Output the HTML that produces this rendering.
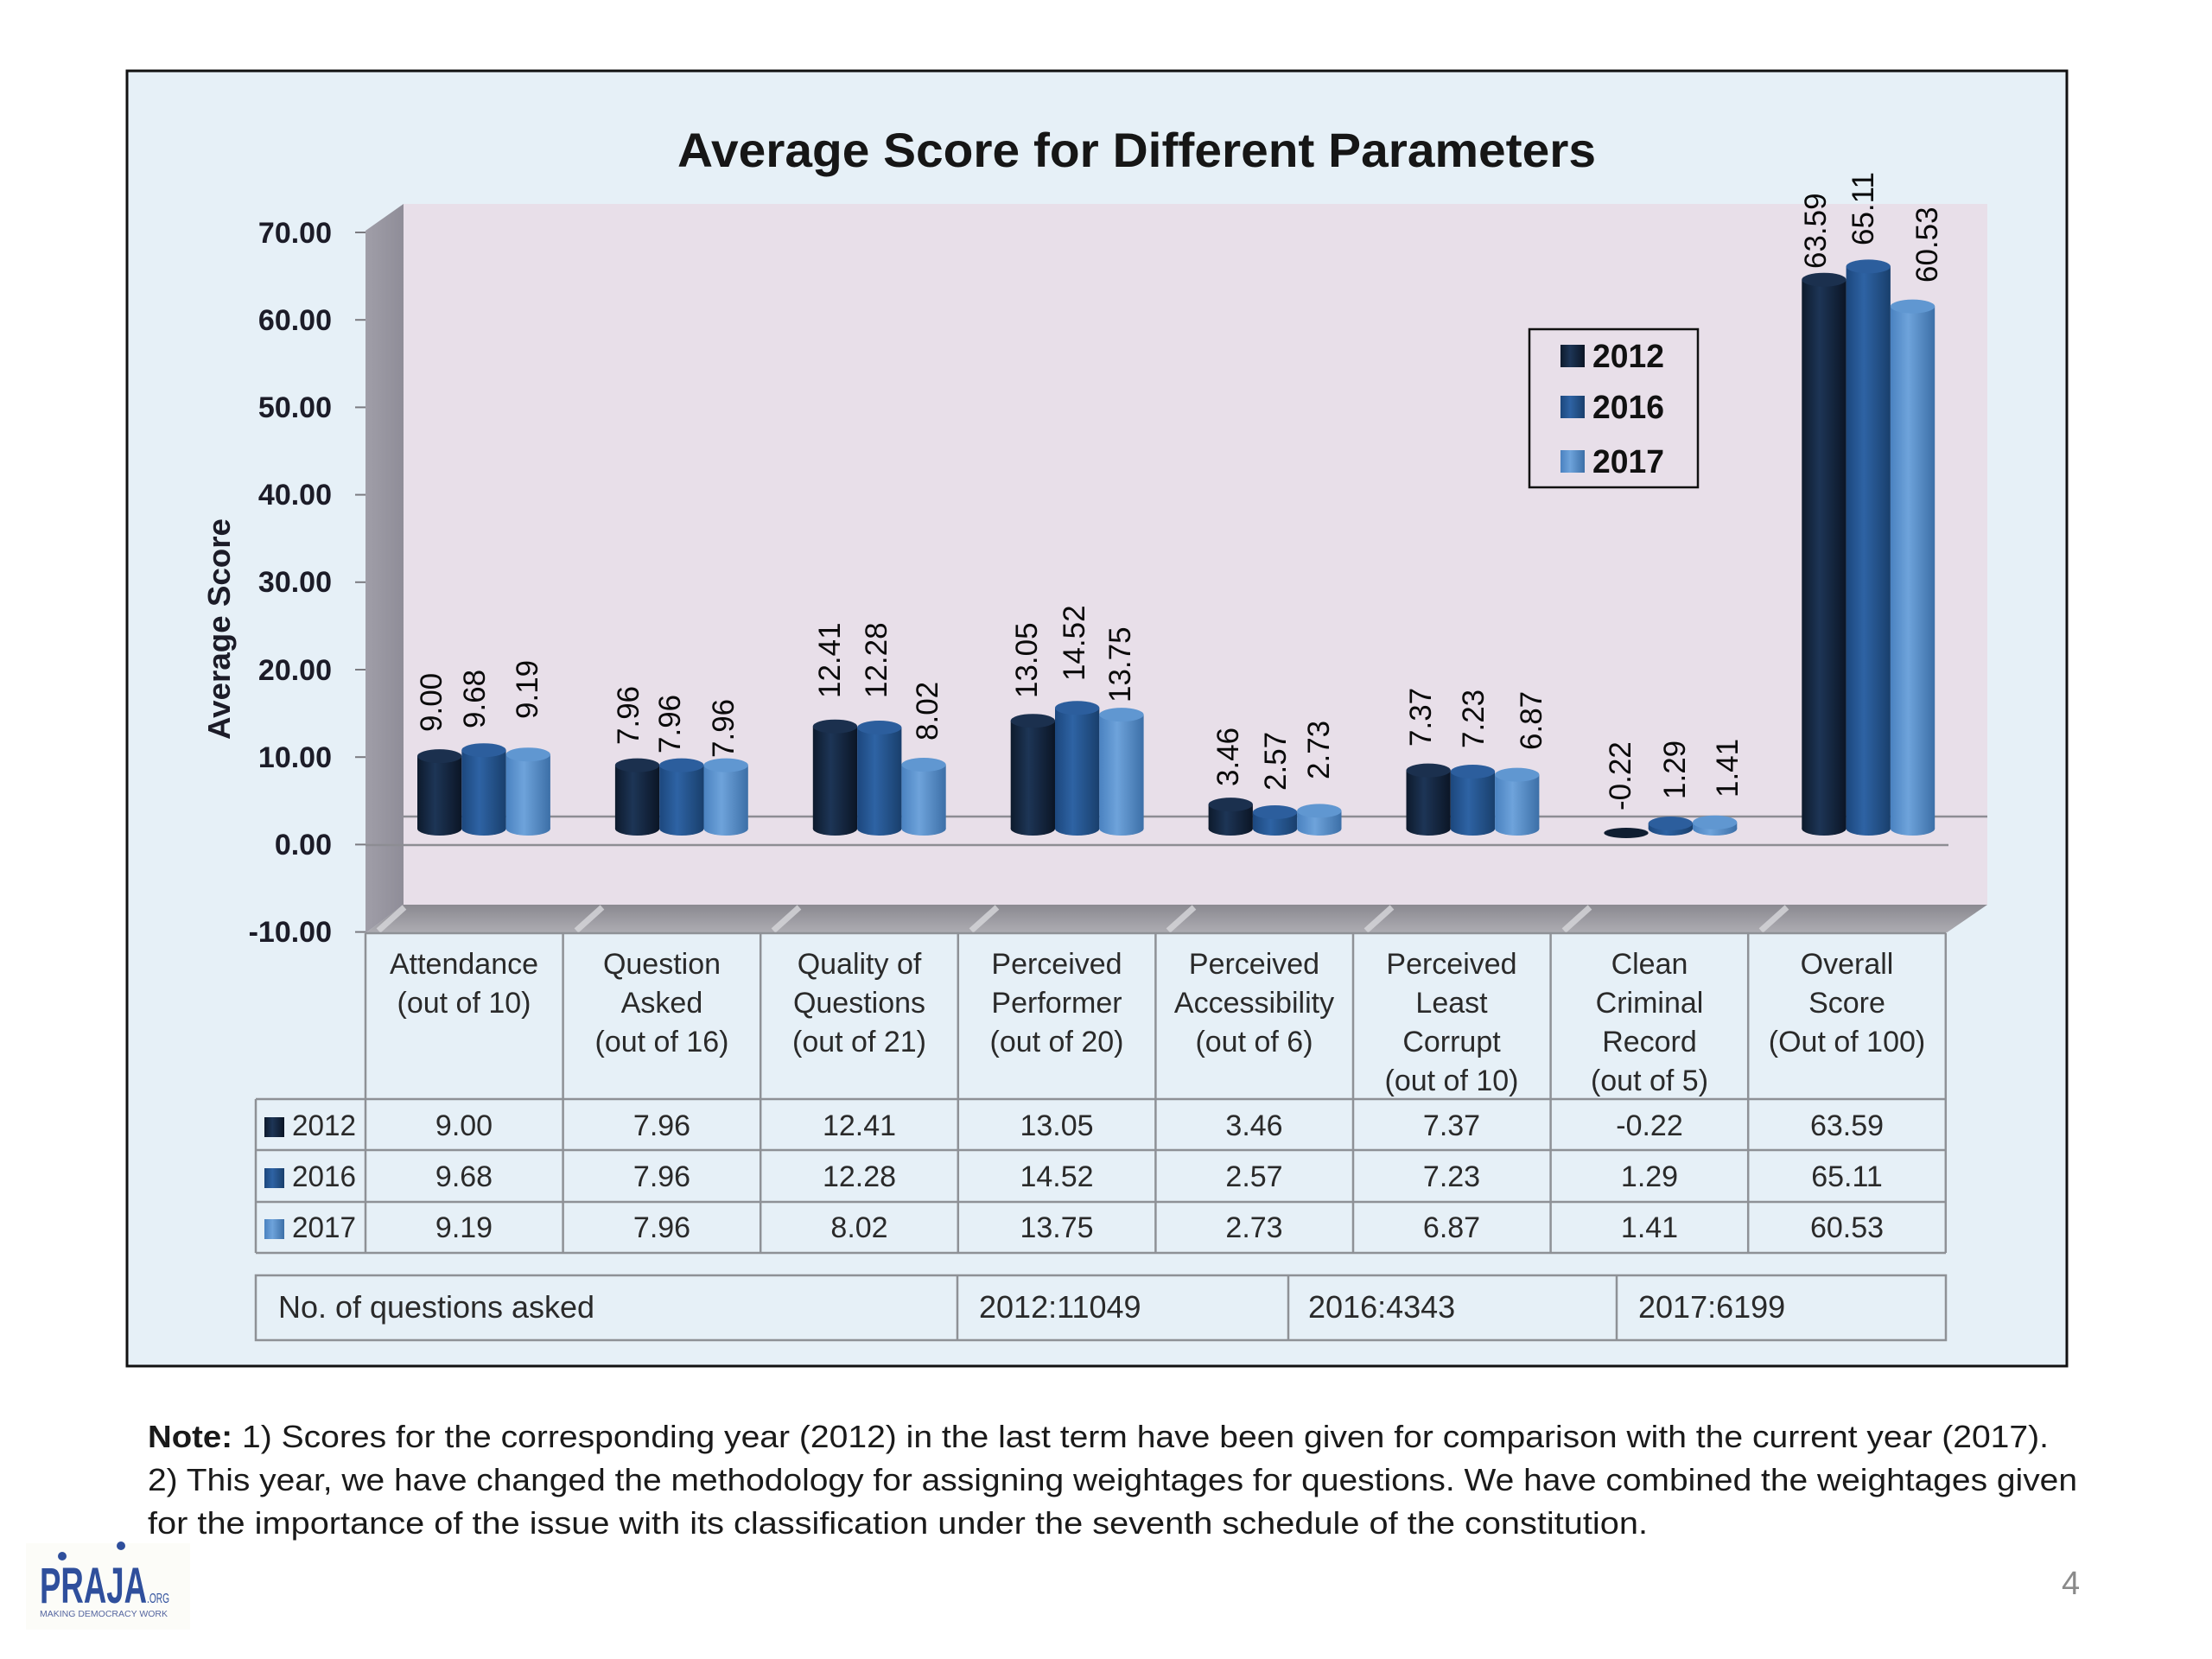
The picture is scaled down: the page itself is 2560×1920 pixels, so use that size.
<!DOCTYPE html>
<html>
<head>
<meta charset="utf-8">
<style>
html,body{margin:0;padding:0;background:#ffffff;}
svg{display:block;}
text{font-family:"Liberation Sans",Arial,sans-serif;}
</style>
</head>
<body>
<svg xmlns="http://www.w3.org/2000/svg" width="2560" height="1920" viewBox="0 0 2560 1920">
<defs>
  <linearGradient id="gD" x1="0" y1="0" x2="1" y2="0">
    <stop offset="0" stop-color="#0d1a2c"/>
    <stop offset="0.4" stop-color="#1d3556"/>
    <stop offset="1" stop-color="#0b1525"/>
  </linearGradient>
  <linearGradient id="gM" x1="0" y1="0" x2="1" y2="0">
    <stop offset="0" stop-color="#1c477d"/>
    <stop offset="0.4" stop-color="#2e63a4"/>
    <stop offset="1" stop-color="#193f6c"/>
  </linearGradient>
  <linearGradient id="gL" x1="0" y1="0" x2="1" y2="0">
    <stop offset="0" stop-color="#4a82c0"/>
    <stop offset="0.4" stop-color="#6ea3db"/>
    <stop offset="1" stop-color="#3c6fa7"/>
  </linearGradient>
  <linearGradient id="gWall" x1="0" y1="0" x2="1" y2="0">
    <stop offset="0" stop-color="#a09ea8"/>
    <stop offset="1" stop-color="#8f8d98"/>
  </linearGradient>
  <linearGradient id="gFloor" x1="0" y1="0" x2="0" y2="1">
    <stop offset="0" stop-color="#8a8990"/>
    <stop offset="1" stop-color="#aeadb3"/>
  </linearGradient>
</defs>

<!-- frame -->
<rect x="147" y="82" width="2245" height="1499" fill="#e6f0f7" stroke="#111" stroke-width="3"/>

<!-- title -->
<text x="1315.5" y="193" font-size="56" font-weight="bold" fill="#161616" text-anchor="middle" textLength="1063" lengthAdjust="spacingAndGlyphs">Average Score for Different Parameters</text>

<!-- back wall -->
<rect x="467" y="236" width="1833" height="811" fill="#e8dfe9"/>
<!-- left wall -->
<polygon points="423,267 467,236 467,1047 423,1080" fill="url(#gWall)"/>
<!-- floor slab -->
<polygon points="467,1047 2300,1047 2252,1080 423,1080" fill="url(#gFloor)"/>
<g stroke="#d4d4d8" stroke-width="7" opacity="0.85">
  <line x1="438" y1="1077" x2="468" y2="1050"/>
  <line x1="667" y1="1077" x2="697" y2="1050"/>
  <line x1="895" y1="1077" x2="925" y2="1050"/>
  <line x1="1124" y1="1077" x2="1154" y2="1050"/>
  <line x1="1352" y1="1077" x2="1382" y2="1050"/>
  <line x1="1581" y1="1077" x2="1611" y2="1050"/>
  <line x1="1810" y1="1077" x2="1840" y2="1050"/>
  <line x1="2038" y1="1077" x2="2068" y2="1050"/>
</g>

<!-- back 0 gridline -->
<line x1="467" y1="945" x2="2300" y2="945" stroke="#8d8d93" stroke-width="2.5"/>

<!-- y axis ticks & labels -->
<g stroke="#7a7a80" stroke-width="2">
  <line x1="411" y1="269" x2="423" y2="269"/>
  <line x1="411" y1="370.2" x2="423" y2="370.2"/>
  <line x1="411" y1="471.4" x2="423" y2="471.4"/>
  <line x1="411" y1="572.6" x2="423" y2="572.6"/>
  <line x1="411" y1="673.8" x2="423" y2="673.8"/>
  <line x1="411" y1="775" x2="423" y2="775"/>
  <line x1="411" y1="876.2" x2="423" y2="876.2"/>
  <line x1="411" y1="977.4" x2="423" y2="977.4"/>
  <line x1="411" y1="1078.6" x2="423" y2="1078.6"/>
</g>
<g font-size="34" font-weight="bold" fill="#1c1c28" text-anchor="end">
  <text x="384" y="281">70.00</text>
  <text x="384" y="382">60.00</text>
  <text x="384" y="483">50.00</text>
  <text x="384" y="584">40.00</text>
  <text x="384" y="685">30.00</text>
  <text x="384" y="787">20.00</text>
  <text x="384" y="888">10.00</text>
  <text x="384" y="989">0.00</text>
  <text x="384" y="1090">-10.00</text>
</g>
<text transform="translate(266,728) rotate(-90)" font-size="36" font-weight="bold" fill="#1c1c28" text-anchor="middle" textLength="256" lengthAdjust="spacingAndGlyphs">Average Score</text>

<!-- bars -->
<g>
<!-- group 0 -->
<rect x="483" y="875.1" width="51.3" height="83.9" fill="url(#gD)"/><ellipse cx="508.65" cy="959" rx="25.65" ry="8" fill="url(#gD)"/><ellipse cx="508.65" cy="875.1" rx="25.65" ry="8" fill="#1b304e"/>
<rect x="534.3" y="868.2" width="51.3" height="90.8" fill="url(#gM)"/><ellipse cx="559.95" cy="959" rx="25.65" ry="8" fill="url(#gM)"/><ellipse cx="559.95" cy="868.2" rx="25.65" ry="8" fill="#2c5e9d"/>
<rect x="585.6" y="873.2" width="51.3" height="85.8" fill="url(#gL)"/><ellipse cx="611.25" cy="959" rx="25.65" ry="8" fill="url(#gL)"/><ellipse cx="611.25" cy="873.2" rx="25.65" ry="8" fill="#6097d1"/>
<!-- group 1 -->
<rect x="711.9" y="885.6" width="51.3" height="73.4" fill="url(#gD)"/><ellipse cx="737.55" cy="959" rx="25.65" ry="8" fill="url(#gD)"/><ellipse cx="737.55" cy="885.6" rx="25.65" ry="8" fill="#1b304e"/>
<rect x="763.2" y="885.6" width="51.3" height="73.4" fill="url(#gM)"/><ellipse cx="788.85" cy="959" rx="25.65" ry="8" fill="url(#gM)"/><ellipse cx="788.85" cy="885.6" rx="25.65" ry="8" fill="#2c5e9d"/>
<rect x="814.5" y="885.6" width="51.3" height="73.4" fill="url(#gL)"/><ellipse cx="840.15" cy="959" rx="25.65" ry="8" fill="url(#gL)"/><ellipse cx="840.15" cy="885.6" rx="25.65" ry="8" fill="#6097d1"/>
<!-- group 2 -->
<rect x="940.8" y="840.7" width="51.3" height="118.3" fill="url(#gD)"/><ellipse cx="966.45" cy="959" rx="25.65" ry="8" fill="url(#gD)"/><ellipse cx="966.45" cy="840.7" rx="25.65" ry="8" fill="#1b304e"/>
<rect x="992.1" y="842" width="51.3" height="117" fill="url(#gM)"/><ellipse cx="1017.75" cy="959" rx="25.65" ry="8" fill="url(#gM)"/><ellipse cx="1017.75" cy="842" rx="25.65" ry="8" fill="#2c5e9d"/>
<rect x="1043.4" y="885" width="51.3" height="74" fill="url(#gL)"/><ellipse cx="1069.05" cy="959" rx="25.65" ry="8" fill="url(#gL)"/><ellipse cx="1069.05" cy="885" rx="25.65" ry="8" fill="#6097d1"/>
<!-- group 3 -->
<rect x="1169.7" y="834.2" width="51.3" height="124.8" fill="url(#gD)"/><ellipse cx="1195.35" cy="959" rx="25.65" ry="8" fill="url(#gD)"/><ellipse cx="1195.35" cy="834.2" rx="25.65" ry="8" fill="#1b304e"/>
<rect x="1221" y="819.3" width="51.3" height="139.7" fill="url(#gM)"/><ellipse cx="1246.65" cy="959" rx="25.65" ry="8" fill="url(#gM)"/><ellipse cx="1246.65" cy="819.3" rx="25.65" ry="8" fill="#2c5e9d"/>
<rect x="1272.3" y="827.1" width="51.3" height="131.9" fill="url(#gL)"/><ellipse cx="1297.95" cy="959" rx="25.65" ry="8" fill="url(#gL)"/><ellipse cx="1297.95" cy="827.1" rx="25.65" ry="8" fill="#6097d1"/>
<!-- group 4 -->
<rect x="1398.6" y="931.1" width="51.3" height="27.9" fill="url(#gD)"/><ellipse cx="1424.25" cy="959" rx="25.65" ry="8" fill="url(#gD)"/><ellipse cx="1424.25" cy="931.1" rx="25.65" ry="8" fill="#1b304e"/>
<rect x="1449.9" y="940" width="51.3" height="19" fill="url(#gM)"/><ellipse cx="1475.55" cy="959" rx="25.65" ry="8" fill="url(#gM)"/><ellipse cx="1475.55" cy="940" rx="25.65" ry="8" fill="#2c5e9d"/>
<rect x="1501.2" y="938.4" width="51.3" height="20.6" fill="url(#gL)"/><ellipse cx="1526.85" cy="959" rx="25.65" ry="8" fill="url(#gL)"/><ellipse cx="1526.85" cy="938.4" rx="25.65" ry="8" fill="#6097d1"/>
<!-- group 5 -->
<rect x="1627.5" y="891.6" width="51.3" height="67.4" fill="url(#gD)"/><ellipse cx="1653.15" cy="959" rx="25.65" ry="8" fill="url(#gD)"/><ellipse cx="1653.15" cy="891.6" rx="25.65" ry="8" fill="#1b304e"/>
<rect x="1678.8" y="893" width="51.3" height="66" fill="url(#gM)"/><ellipse cx="1704.45" cy="959" rx="25.65" ry="8" fill="url(#gM)"/><ellipse cx="1704.45" cy="893" rx="25.65" ry="8" fill="#2c5e9d"/>
<rect x="1730.1" y="896.6" width="51.3" height="62.4" fill="url(#gL)"/><ellipse cx="1755.75" cy="959" rx="25.65" ry="8" fill="url(#gL)"/><ellipse cx="1755.75" cy="896.6" rx="25.65" ry="8" fill="#6097d1"/>
<!-- group 6 -->
<ellipse cx="1882" cy="964" rx="25.65" ry="6" fill="#0f1d31"/>
<rect x="1907.7" y="953" width="51.3" height="6" fill="url(#gM)"/><ellipse cx="1933.35" cy="959" rx="25.65" ry="8" fill="url(#gM)"/><ellipse cx="1933.35" cy="953" rx="25.65" ry="8" fill="#2c5e9d"/>
<rect x="1959" y="951.8" width="51.3" height="7.2" fill="url(#gL)"/><ellipse cx="1984.65" cy="959" rx="25.65" ry="8" fill="url(#gL)"/><ellipse cx="1984.65" cy="951.8" rx="25.65" ry="8" fill="#6097d1"/>
<!-- group 7 -->
<rect x="2085.3" y="323.7" width="51.3" height="635.3" fill="url(#gD)"/><ellipse cx="2110.95" cy="959" rx="25.65" ry="8" fill="url(#gD)"/><ellipse cx="2110.95" cy="323.7" rx="25.65" ry="8" fill="#1b304e"/>
<rect x="2136.6" y="308.4" width="51.3" height="650.6" fill="url(#gM)"/><ellipse cx="2162.25" cy="959" rx="25.65" ry="8" fill="url(#gM)"/><ellipse cx="2162.25" cy="308.4" rx="25.65" ry="8" fill="#2c5e9d"/>
<rect x="2187.9" y="354.6" width="51.3" height="604.4" fill="url(#gL)"/><ellipse cx="2213.55" cy="959" rx="25.65" ry="8" fill="url(#gL)"/><ellipse cx="2213.55" cy="354.6" rx="25.65" ry="8" fill="#6097d1"/>
</g>

<!-- front 0 gridline -->
<line x1="423" y1="978" x2="2255" y2="978" stroke="#8d8d93" stroke-width="2.5"/>

<!-- value labels -->
<g font-size="35" fill="#0a0a0a">
  <text transform="translate(511,847) rotate(-90)">9.00</text>
  <text transform="translate(561,843) rotate(-90)">9.68</text>
  <text transform="translate(622,832) rotate(-90)">9.19</text>
  <text transform="translate(739,862) rotate(-90)">7.96</text>
  <text transform="translate(787,872) rotate(-90)">7.96</text>
  <text transform="translate(849,877) rotate(-90)">7.96</text>
  <text transform="translate(972,808) rotate(-90)">12.41</text>
  <text transform="translate(1026,808) rotate(-90)">12.28</text>
  <text transform="translate(1085,857) rotate(-90)">8.02</text>
  <text transform="translate(1200,808) rotate(-90)">13.05</text>
  <text transform="translate(1255,788) rotate(-90)">14.52</text>
  <text transform="translate(1308,813) rotate(-90)">13.75</text>
  <text transform="translate(1433,910) rotate(-90)">3.46</text>
  <text transform="translate(1488,915) rotate(-90)">2.57</text>
  <text transform="translate(1538,902) rotate(-90)">2.73</text>
  <text transform="translate(1656,864) rotate(-90)">7.37</text>
  <text transform="translate(1717,866) rotate(-90)">7.23</text>
  <text transform="translate(1784,868) rotate(-90)">6.87</text>
  <text transform="translate(1887,938) rotate(-90)">-0.22</text>
  <text transform="translate(1950,925) rotate(-90)">1.29</text>
  <text transform="translate(2011,923) rotate(-90)">1.41</text>
  <text transform="translate(2113,311) rotate(-90)">63.59</text>
  <text transform="translate(2168,284) rotate(-90)">65.11</text>
  <text transform="translate(2242,327) rotate(-90)">60.53</text>
</g>

<!-- legend -->
<rect x="1770" y="381" width="195" height="183" fill="none" stroke="#111" stroke-width="2.5"/>
<rect x="1806" y="399" width="28" height="26" fill="url(#gD)"/>
<rect x="1806" y="458" width="28" height="26" fill="url(#gM)"/>
<rect x="1806" y="521" width="28" height="26" fill="url(#gL)"/>
<g font-size="38" font-weight="bold" fill="#111">
  <text x="1843" y="425" textLength="83" lengthAdjust="spacingAndGlyphs">2012</text>
  <text x="1843" y="484" textLength="83" lengthAdjust="spacingAndGlyphs">2016</text>
  <text x="1843" y="547" textLength="83" lengthAdjust="spacingAndGlyphs">2017</text>
</g>

<!-- data table -->
<g stroke="#8e9196" stroke-width="2.5" fill="none">
  <line x1="423" y1="1080" x2="2252" y2="1080"/>
  <line x1="296" y1="1272" x2="2252" y2="1272"/>
  <line x1="296" y1="1331" x2="2252" y2="1331"/>
  <line x1="296" y1="1391" x2="2252" y2="1391"/>
  <line x1="296" y1="1450" x2="2252" y2="1450"/>
  <line x1="296" y1="1272" x2="296" y2="1450"/>
  <line x1="423" y1="1080" x2="423" y2="1450"/>
  <line x1="651.6" y1="1080" x2="651.6" y2="1450"/>
  <line x1="880.2" y1="1080" x2="880.2" y2="1450"/>
  <line x1="1108.8" y1="1080" x2="1108.8" y2="1450"/>
  <line x1="1337.4" y1="1080" x2="1337.4" y2="1450"/>
  <line x1="1566" y1="1080" x2="1566" y2="1450"/>
  <line x1="1794.6" y1="1080" x2="1794.6" y2="1450"/>
  <line x1="2023.2" y1="1080" x2="2023.2" y2="1450"/>
  <line x1="2251.8" y1="1080" x2="2251.8" y2="1450"/>
  <rect x="296" y="1476" width="1956" height="75"/>
  <line x1="1108" y1="1476" x2="1108" y2="1551"/>
  <line x1="1491" y1="1476" x2="1491" y2="1551"/>
  <line x1="1871" y1="1476" x2="1871" y2="1551"/>
</g>

<g font-size="34" fill="#2a2a2a" text-anchor="middle">
  <!-- headers -->
  <text x="537" y="1127">Attendance</text>
  <text x="537" y="1172">(out of 10)</text>
  <text x="766" y="1127">Question</text>
  <text x="766" y="1172">Asked</text>
  <text x="766" y="1217">(out of 16)</text>
  <text x="994.5" y="1127">Quality of</text>
  <text x="994.5" y="1172">Questions</text>
  <text x="994.5" y="1217">(out of 21)</text>
  <text x="1223" y="1127">Perceived</text>
  <text x="1223" y="1172">Performer</text>
  <text x="1223" y="1217">(out of 20)</text>
  <text x="1451.5" y="1127">Perceived</text>
  <text x="1451.5" y="1172">Accessibility</text>
  <text x="1451.5" y="1217">(out of 6)</text>
  <text x="1680" y="1127">Perceived</text>
  <text x="1680" y="1172">Least</text>
  <text x="1680" y="1217">Corrupt</text>
  <text x="1680" y="1262">(out of 10)</text>
  <text x="1909" y="1127">Clean</text>
  <text x="1909" y="1172">Criminal</text>
  <text x="1909" y="1217">Record</text>
  <text x="1909" y="1262">(out of 5)</text>
  <text x="2137.5" y="1127">Overall</text>
  <text x="2137.5" y="1172">Score</text>
  <text x="2137.5" y="1217">(Out of 100)</text>
  <!-- row 2012 -->
  <text x="537" y="1314">9.00</text>
  <text x="766" y="1314">7.96</text>
  <text x="994.5" y="1314">12.41</text>
  <text x="1223" y="1314">13.05</text>
  <text x="1451.5" y="1314">3.46</text>
  <text x="1680" y="1314">7.37</text>
  <text x="1909" y="1314">-0.22</text>
  <text x="2137.5" y="1314">63.59</text>
  <!-- row 2016 -->
  <text x="537" y="1373">9.68</text>
  <text x="766" y="1373">7.96</text>
  <text x="994.5" y="1373">12.28</text>
  <text x="1223" y="1373">14.52</text>
  <text x="1451.5" y="1373">2.57</text>
  <text x="1680" y="1373">7.23</text>
  <text x="1909" y="1373">1.29</text>
  <text x="2137.5" y="1373">65.11</text>
  <!-- row 2017 -->
  <text x="537" y="1432">9.19</text>
  <text x="766" y="1432">7.96</text>
  <text x="994.5" y="1432">8.02</text>
  <text x="1223" y="1432">13.75</text>
  <text x="1451.5" y="1432">2.73</text>
  <text x="1680" y="1432">6.87</text>
  <text x="1909" y="1432">1.41</text>
  <text x="2137.5" y="1432">60.53</text>
</g>

<!-- year labels in table -->
<rect x="306" y="1293" width="23" height="23" fill="url(#gD)"/>
<rect x="306" y="1352" width="23" height="23" fill="url(#gM)"/>
<rect x="306" y="1411" width="23" height="23" fill="url(#gL)"/>
<g font-size="34" fill="#2a2a2a">
  <text x="338" y="1314" textLength="74" lengthAdjust="spacingAndGlyphs">2012</text>
  <text x="338" y="1373" textLength="74" lengthAdjust="spacingAndGlyphs">2016</text>
  <text x="338" y="1432" textLength="74" lengthAdjust="spacingAndGlyphs">2017</text>
</g>

<!-- questions row -->
<g font-size="36" fill="#2a2a2a">
  <text x="322" y="1525" textLength="366" lengthAdjust="spacingAndGlyphs">No. of questions asked</text>
  <text x="1133" y="1525">2012:11049</text>
  <text x="1514" y="1525">2016:4343</text>
  <text x="1896" y="1525">2017:6199</text>
</g>

<!-- logo background (behind note) -->
<rect x="30" y="1786" width="190" height="100" fill="#fcfcf8"/>

<!-- note -->
<g font-size="36" fill="#1a1a1a">
  <text x="171" y="1675" font-weight="bold" textLength="98" lengthAdjust="spacingAndGlyphs">Note:</text>
  <text x="280" y="1675" textLength="2091" lengthAdjust="spacingAndGlyphs">1) Scores for the corresponding year (2012) in the last term have been given for comparison with the current year (2017).</text>
  <text x="171" y="1725" textLength="2233" lengthAdjust="spacingAndGlyphs">2) This year, we have changed the methodology for assigning weightages for questions. We have combined the weightages given</text>
  <text x="171" y="1775" textLength="1736" lengthAdjust="spacingAndGlyphs">for the importance of the issue with its classification under the seventh schedule of the constitution.</text>
</g>

<!-- page number -->
<text x="2386" y="1845" font-size="38" fill="#8a8a8a">4</text>

<!-- logo -->
<circle cx="72" cy="1801" r="5" fill="#2f4f9c"/>
<circle cx="140" cy="1789" r="5" fill="#2f4f9c"/>
<text x="46" y="1855" font-size="58" font-weight="bold" fill="#2f4f9c" textLength="124" lengthAdjust="spacingAndGlyphs">PRAJA</text>
<text x="170" y="1855" font-size="16" fill="#2f4f9c" textLength="26" lengthAdjust="spacingAndGlyphs">.ORG</text>
<text x="46" y="1871" font-size="10" fill="#5566a0" textLength="148" lengthAdjust="spacingAndGlyphs">MAKING DEMOCRACY WORK</text>
</svg>
</body>
</html>
